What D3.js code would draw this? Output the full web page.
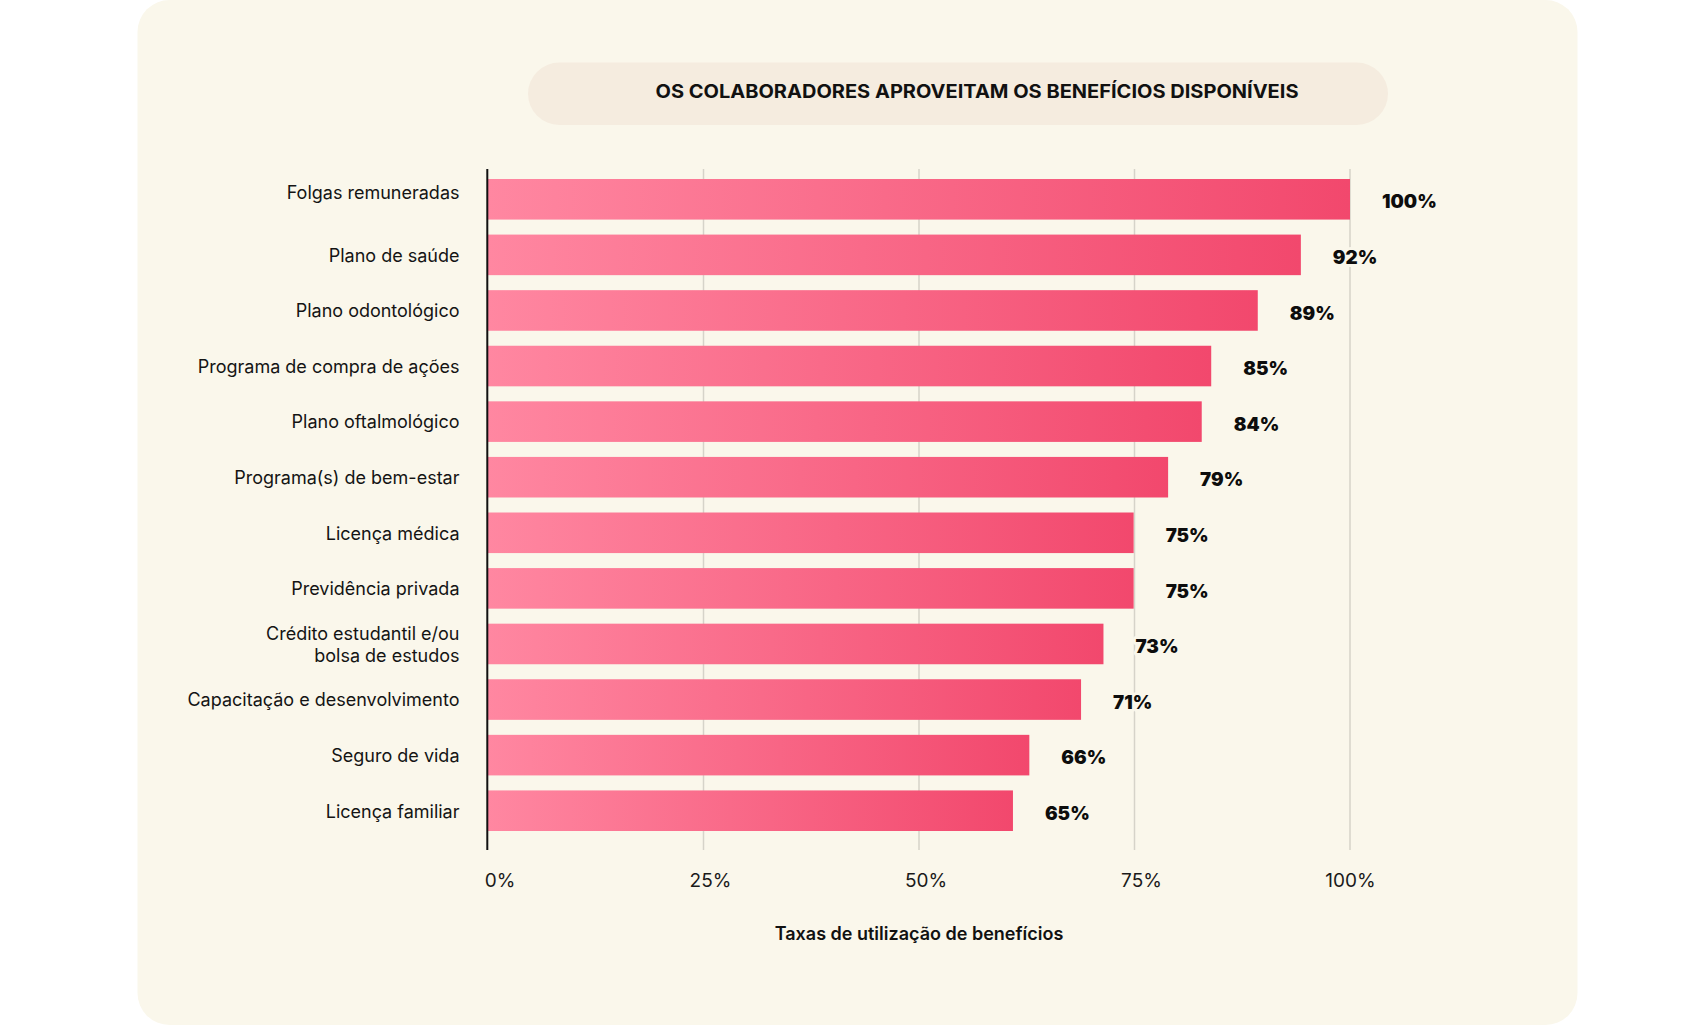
<!DOCTYPE html>
<html>
<head>
<meta charset="utf-8">
<script src="https://cdn.jsdelivr.net/npm/d3@7"></script>
<style>
  html, body { margin: 0; padding: 0; background: #ffffff; }
  svg { display: block; }
</style>
</head>
<body>
<svg id="chart" width="1685" height="1026"></svg>
<script>
const categories = [
  "Folgas remuneradas",
  "Plano de saúde",
  "Plano odontológico",
  "Programa de compra de ações",
  "Plano oftalmológico",
  "Programa(s) de bem-estar",
  "Licença médica",
  "Previdência privada",
  "Crédito estudantil e/ou\nbolsa de estudos",
  "Capacitação e desenvolvimento",
  "Seguro de vida",
  "Licença familiar"
];
// bar lengths as drawn in the picture (percent of axis)
const barValues = [100, 94.3, 89.3, 83.9, 82.8, 78.9, 74.9, 74.9, 71.4, 68.8, 62.8, 60.9];
// value labels as printed
const valueLabels = ["100%", "92%", "89%", "85%", "84%", "79%", "75%", "75%", "73%", "71%", "66%", "65%"];
const tickValues = [0, 25, 50, 75, 100];
const tickLabels = ["0%", "25%", "50%", "75%", "100%"];
const chartTitle = "OS COLABORADORES APROVEITAM OS BENEFÍCIOS DISPONÍVEIS";
const axisTitle = "Taxas de utilização de benefícios";

const svg = d3.select("#chart");
const cardFill = "#FAF7EB";

// card
svg.append("rect")
  .attr("x", 137.5).attr("y", 0)
  .attr("width", 1440).attr("height", 1025)
  .attr("rx", 32).attr("ry", 32)
  .attr("fill", cardFill);

// title pill
svg.append("rect")
  .attr("x", 528).attr("y", 62.5)
  .attr("width", 860).attr("height", 62.5)
  .attr("rx", 31.25).attr("ry", 31.25)
  .attr("fill", "#F5ECDF");
svg.append("text")
  .attr("x", 977).attr("y", 97.9)
  .attr("text-anchor", "middle")
  .attr("font-family", "Inter, 'Noto Sans', sans-serif")
  .attr("font-weight", 700)
  .attr("font-size", 18.8)
  .attr("fill", "#111111")
  .attr("textLength", 643)
  .attr("lengthAdjust", "spacingAndGlyphs")
  .text(chartTitle);

// gradient
const defs = svg.append("defs");
const grad = defs.append("linearGradient")
  .attr("id", "barGrad")
  .attr("x1", "0%").attr("x2", "100%").attr("y1", "0%").attr("y2", "0%");
grad.append("stop").attr("offset", "0%").attr("stop-color", "#FF87A1");
grad.append("stop").attr("offset", "100%").attr("stop-color", "#F2486D");

// scales
const x = d3.scaleLinear().domain([0, 100]).range([488, 1350]);
const y = d3.scaleBand().domain(categories).range([179, 831]).paddingInner(0.27).paddingOuter(0);

const plotTop = 169, plotBottom = 850;

// gridlines
svg.append("g")
  .selectAll("line")
  .data(tickValues.filter(d => d > 0))
  .join("line")
  .attr("x1", d => x(d)).attr("x2", d => x(d))
  .attr("y1", plotTop).attr("y2", plotBottom)
  .attr("stroke", "#D6D3C9")
  .attr("stroke-width", 1.5);

// bars
const data = categories.map((c, i) => ({ cat: c, v: barValues[i], label: valueLabels[i], i }));
svg.append("g")
  .selectAll("rect")
  .data(data)
  .join("rect")
  .attr("x", x(0))
  .attr("y", d => y(d.cat))
  .attr("width", d => x(d.v) - x(0))
  .attr("height", y.bandwidth())
  .attr("fill", "url(#barGrad)");

// vertical axis line
svg.append("line")
  .attr("x1", 487.3).attr("x2", 487.3)
  .attr("y1", plotTop).attr("y2", plotBottom)
  .attr("stroke", "#111111")
  .attr("stroke-width", 2);

// value labels (heavy, horizontally widened)
const valG = svg.append("g");
const probe = valG.append("text")
  .attr("font-family", "Inter, sans-serif").attr("font-weight", 900).attr("font-size", 18.3)
  .text("89%");
const natural = probe.node().getComputedTextLength();
probe.remove();
const sx = natural > 0 ? 45 / natural : 1.15;
valG.selectAll("text")
  .data(data)
  .join("text")
  .attr("transform", d => `translate(${x(d.v) + 32},${y(d.cat) + y.bandwidth() / 2 + 9.2}) scale(${sx},1)`)
  .attr("font-family", "Inter, sans-serif")
  .attr("font-weight", 900)
  .attr("font-size", 18.3)
  .attr("fill", "#0d0d0d")
  .attr("stroke", cardFill)
  .attr("stroke-width", 6)
  .attr("paint-order", "stroke")
  .attr("stroke-linejoin", "round")
  .text(d => d.label);

// category labels
const catG = svg.append("g");
data.forEach(d => {
  const lines = d.cat.split("\n");
  const cy = y(d.cat) + y.bandwidth() / 2 + (d.i === 0 ? -7 : 0);
  const t = catG.append("text")
    .attr("text-anchor", "end")
    .attr("font-family", "Inter, 'Noto Sans', sans-serif")
    .attr("font-size", 18)
    .attr("fill", "#141414");
  lines.forEach((ln, k) => {
    t.append("tspan")
      .attr("x", 459.5)
      .attr("y", cy + 6.8 + (k - (lines.length - 1) / 2) * 22.3)
      .text(ln);
  });
});

// x axis tick labels
const xAxis = d3.axisBottom(x)
  .tickValues(tickValues)
  .tickFormat((d, i) => tickLabels[i])
  .tickSize(0)
  .tickPadding(0);
const axG = svg.append("g")
  .attr("transform", "translate(0,886.7)")
  .call(xAxis);
axG.select(".domain").remove();
axG.selectAll("text")
  .attr("y", 0).attr("dy", 0)
  .attr("dx", (d, i) => i === 0 ? 11.5 : (i === tickValues.length - 1 ? 0 : 6.5))
  .attr("font-family", "Inter, 'Noto Sans', sans-serif")
  .attr("font-size", 19)
  .attr("fill", "#1a1a1a");

// axis title
svg.append("text")
  .attr("x", x(50))
  .attr("y", 940)
  .attr("text-anchor", "middle")
  .attr("font-family", "Inter, 'Noto Sans', sans-serif")
  .attr("font-weight", 600)
  .attr("font-size", 18)
  .attr("fill", "#111111")
  .text(axisTitle);
</script>
</body>
</html>
